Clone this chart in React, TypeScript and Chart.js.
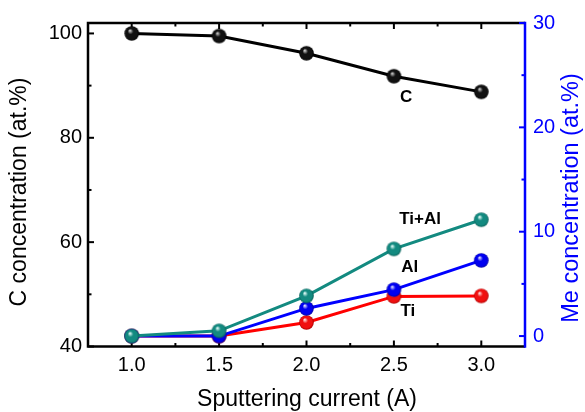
import React, { useEffect, useRef } from 'react';
import { Chart, registerables } from 'chart.js';
Chart.register(...registerables);

const currents = [1.0, 1.5, 2.0, 2.5, 3.0];
const carbon = [100, 99.5, 96.2, 91.8, 88.8];
const tiAl = [0, 0.5, 3.85, 8.35, 11.15];
const al = [0, 0, 2.65, 4.45, 7.25];
const ti = [0, 0, 1.3, 3.8, 3.85];

const xTicks = [1.0, 1.5, 2.0, 2.5, 3.0];
const xMinor = [1.25, 1.75, 2.25, 2.75];
const leftTicks = [40, 60, 80, 100];
const leftMinor = [50, 70, 90];
const rightTicks = [0, 10, 20, 30];
const rightMinor = [5, 15, 25];

const seriesNames = ['C', 'Ti+Al', 'Al', 'Ti'];
const labelX = [2.57, 2.65, 2.59, 2.58];
const labelY = [87.7, 11.2, 6.6, 2.4];
const labelAxis = ['y', 'y1', 'y1', 'y1'];

const FONT = "'Liberation Sans', Arial, sans-serif";

function makeBall(color: string, dark: string, hi: string, r: number) {
  const c = document.createElement('canvas');
  const s = Math.ceil(r * 2 + 2);
  c.width = s;
  c.height = s;
  const g = c.getContext('2d')!;
  const cx = s / 2, cy = s / 2;
  const grad = g.createRadialGradient(cx - r * 0.25, cy - r * 0.4, r * 0.05, cx, cy, r);
  grad.addColorStop(0, hi);
  grad.addColorStop(0.35, color);
  grad.addColorStop(0.8, color);
  grad.addColorStop(1, dark);
  g.fillStyle = grad;
  g.beginPath();
  g.arc(cx, cy, r, 0, Math.PI * 2);
  g.fill();
  return c;
}

const framePlugin = {
  id: 'frame',
  beforeDatasetsDraw(chart: any) {
    const { ctx, chartArea, scales } = chart;
    const { left, right, top, bottom } = chartArea;
    ctx.save();
    ctx.lineWidth = 2.5;
    ctx.lineCap = 'butt';
    ctx.strokeStyle = '#000';
    ctx.beginPath();
    ctx.moveTo(right, top);
    ctx.lineTo(left, top);
    ctx.lineTo(left, bottom);
    ctx.lineTo(right, bottom);
    ctx.stroke();
    ctx.lineWidth = 2;
    const tick = (x1: number, y1: number, x2: number, y2: number) => {
      ctx.beginPath();
      ctx.moveTo(x1, y1);
      ctx.lineTo(x2, y2);
      ctx.stroke();
    };
    xTicks.forEach((v) => {
      const p = scales.x.getPixelForValue(v);
      tick(p, bottom, p, bottom - 6);
      tick(p, top, p, top + 6);
    });
    xMinor.forEach((v) => {
      const p = scales.x.getPixelForValue(v);
      tick(p, bottom, p, bottom - 3.5);
      tick(p, top, p, top + 3.5);
    });
    leftTicks.forEach((v) => {
      const p = scales.y.getPixelForValue(v);
      tick(left, p, left + 6, p);
    });
    leftMinor.forEach((v) => {
      const p = scales.y.getPixelForValue(v);
      tick(left, p, left + 3.5, p);
    });
    ctx.strokeStyle = '#0000ff';
    rightTicks.forEach((v) => {
      const p = scales.y1.getPixelForValue(v);
      tick(right, p, right - 6, p);
    });
    rightMinor.forEach((v) => {
      const p = scales.y1.getPixelForValue(v);
      tick(right, p, right - 3.5, p);
    });
    ctx.lineWidth = 2.5;
    ctx.beginPath();
    ctx.moveTo(right, top - 1.2);
    ctx.lineTo(right, bottom + 1.2);
    ctx.stroke();
    ctx.restore();
  },
  afterDraw(chart: any) {
    const { ctx, chartArea, scales } = chart;
    ctx.save();
    ctx.textAlign = 'center';
    ctx.textBaseline = 'middle';
    ctx.font = `bold 17px ${FONT}`;
    ctx.fillStyle = '#000';
    seriesNames.forEach((t, i) => {
      const px = scales.x.getPixelForValue(labelX[i]);
      const py = scales[labelAxis[i]].getPixelForValue(labelY[i]);
      ctx.fillText(t, px, py);
    });
    ctx.font = `23px ${FONT}`;
    ctx.fillText('Sputtering current (A)', 307, 400);
    ctx.save();
    ctx.translate(20, 192);
    ctx.rotate(-Math.PI / 2);
    ctx.fillText('C concentration (at.%)', 0, 0);
    ctx.restore();
    ctx.save();
    ctx.fillStyle = '#0000ff';
    ctx.font = `23.5px ${FONT}`;
    ctx.translate(572, 198);
    ctx.rotate(-Math.PI / 2);
    ctx.fillText('Me concentration (at.%)', 0, 0);
    ctx.restore();
    ctx.restore();
  },
};

export default function App() {
  const ref = useRef<HTMLCanvasElement>(null);
  useEffect(() => {
    if (!ref.current) return;
    const r = 7.3;
    const ballBlack = makeBall('#111', '#000', '#d0d0d0', r);
    const ballTeal = makeBall('#138a80', '#0a5f58', '#e8fffb', r);
    const ballBlue = makeBall('#0000f0', '#0000a0', '#e0e0ff', r);
    const ballRed = makeBall('#f01010', '#b00000', '#ffe0e0', r);
    const mk = (arr: number[]) => currents.map((x, i) => ({ x, y: arr[i] }));
    const ds = (label: string, arr: number[], color: string, ball: HTMLCanvasElement, axis: string) => ({
      label,
      data: mk(arr),
      yAxisID: axis,
      borderColor: color,
      backgroundColor: color,
      borderWidth: 3,
      pointStyle: ball,
      pointRadius: r,
      tension: 0,
    });
    const tickFont = { family: FONT, size: 20 };
    const chart = new Chart(ref.current, {
      type: 'line',
      data: {
        datasets: [
          ds('C', carbon, '#000', ballBlack, 'y'),
          ds('Ti+Al', tiAl, '#138a80', ballTeal, 'y1'),
          ds('Al', al, '#0000ff', ballBlue, 'y1'),
          ds('Ti', ti, '#ff0000', ballRed, 'y1'),
        ],
      },
      options: {
        responsive: false,
        animation: false,
        devicePixelRatio: 1,
        layout: { padding: { top: 23, left: 0, right: 0, bottom: 0 } },
        plugins: { legend: { display: false }, tooltip: { enabled: false } },
        scales: {
          x: {
            type: 'linear',
            min: 0.75,
            max: 3.25,
            grid: { display: false, drawTicks: false },
            border: { display: false },
            afterBuildTicks: (s: any) => { s.ticks = xTicks.map((v) => ({ value: v })); },
            afterFit: (s: any) => { s.height = 65.5; },
            ticks: { font: tickFont, color: '#000', padding: 7, callback: (v: any) => Number(v).toFixed(1) },
          },
          y: {
            type: 'linear',
            position: 'left',
            min: 40,
            max: 102,
            grid: { display: false, drawTicks: false },
            border: { display: false },
            afterBuildTicks: (s: any) => { s.ticks = leftTicks.map((v) => ({ value: v })); },
            afterFit: (s: any) => { s.width = 88; },
            ticks: { font: tickFont, color: '#000', padding: 6 },
          },
          y1: {
            type: 'linear',
            position: 'right',
            min: -1,
            max: 30,
            grid: { display: false, drawTicks: false },
            border: { display: false },
            afterBuildTicks: (s: any) => { s.ticks = rightTicks.map((v) => ({ value: v })); },
            afterFit: (s: any) => { s.width = 60; },
            ticks: { font: tickFont, color: '#0000ff', padding: 8 },
          },
        },
      },
      plugins: [framePlugin],
    });
    return () => chart.destroy();
  }, []);
  return (
    <div style={{ position: 'absolute', left: 0, top: 0, width: 585, height: 412, background: '#fff' }}>
      <canvas ref={ref} width={585} height={412} style={{ display: 'block' }} />
    </div>
  );
}
